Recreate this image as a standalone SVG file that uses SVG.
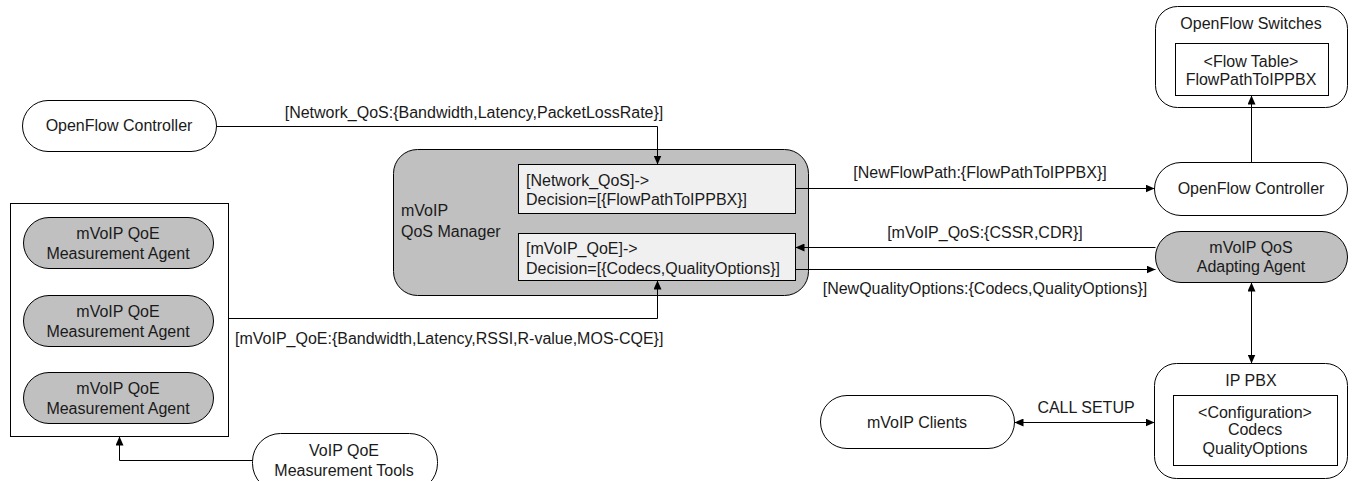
<svg xmlns="http://www.w3.org/2000/svg" width="1353" height="481" viewBox="0 0 1353 481">
<defs>
<style>
text{font-family:"Liberation Sans",Arial,sans-serif;font-size:16px;fill:#1a1a1a}
.c{text-anchor:middle}
.w{fill:#ffffff;stroke:#000;stroke-width:1}
.g{fill:#c0c0c0;stroke:#000;stroke-width:1}
.l{fill:#f0f0f0;stroke:#000;stroke-width:1}
.e{fill:none;stroke:#000;stroke-width:1}
</style>
<marker id="ah" viewBox="0 0 9 8" refX="9" refY="4" markerWidth="9" markerHeight="8" markerUnits="userSpaceOnUse" orient="auto-start-reverse">
<path d="M0,0 L9,4 L0,8 Z" fill="#000"/>
</marker>
</defs>
<rect width="1353" height="481" fill="#fff"/>

<g id="of-controller-left">
<rect class="w" x="22.5" y="100.5" width="194" height="51" rx="25.5"/>
<text class="c" x="119" y="131">OpenFlow Controller</text>
</g>

<g id="qos-manager">
<rect class="g" x="393.5" y="149.5" width="415" height="146" rx="24"/>
<text x="401" y="216">mVoIP</text>
<text x="401" y="237">QoS Manager</text>
<rect class="l" x="518.5" y="164.5" width="277" height="49"/>
<text x="526" y="186">[Network_QoS]-&gt;</text>
<text x="526" y="205">Decision=[{FlowPathToIPPBX}]</text>
<rect class="l" x="518.5" y="233.5" width="277" height="47"/>
<text x="526" y="254">[mVoIP_QoE]-&gt;</text>
<text x="526" y="274">Decision=[{Codecs,QualityOptions}]</text>
</g>

<g id="agents-container">
<rect class="w" x="10.5" y="203.5" width="218" height="233"/>
</g>
<g id="agent-1">
<rect class="g" x="23.5" y="217.5" width="190" height="51" rx="25.5"/>
<text class="c" x="118" y="239">mVoIP QoE</text>
<text class="c" x="118" y="259">Measurement Agent</text>
</g>
<g id="agent-2">
<rect class="g" x="23.5" y="295.5" width="190" height="51" rx="25.5"/>
<text class="c" x="118" y="317">mVoIP QoE</text>
<text class="c" x="118" y="337">Measurement Agent</text>
</g>
<g id="agent-3">
<rect class="g" x="23.5" y="372.5" width="190" height="51" rx="25.5"/>
<text class="c" x="118" y="394">mVoIP QoE</text>
<text class="c" x="118" y="414">Measurement Agent</text>
</g>

<g id="measurement-tools">
<rect class="w" x="252.5" y="433.5" width="185" height="58" rx="28"/>
<text class="c" x="344" y="456">VoIP QoE</text>
<text class="c" x="344" y="476">Measurement Tools</text>
</g>

<g id="openflow-switches">
<rect class="w" x="1155.5" y="6.5" width="192" height="101" rx="22"/>
<text class="c" x="1251" y="29">OpenFlow Switches</text>
<rect class="w" x="1175.5" y="43.5" width="153" height="52"/>
<text class="c" x="1251" y="67">&lt;Flow Table&gt;</text>
<text class="c" x="1251" y="85">FlowPathToIPPBX</text>
</g>

<g id="of-controller-right">
<rect class="w" x="1154.5" y="162.5" width="193" height="53" rx="26.5"/>
<text class="c" x="1251" y="194">OpenFlow Controller</text>
</g>

<g id="adapting-agent">
<rect class="g" x="1155.5" y="231.5" width="192" height="51" rx="25.5"/>
<text class="c" x="1251" y="253">mVoIP QoS</text>
<text class="c" x="1251" y="272">Adapting Agent</text>
</g>

<g id="ip-pbx">
<rect class="w" x="1154.5" y="363.5" width="193" height="115" rx="22"/>
<text class="c" x="1251" y="386">IP PBX</text>
<rect class="w" x="1173.5" y="395.5" width="164" height="70"/>
<text class="c" x="1255" y="418">&lt;Configuration&gt;</text>
<text class="c" x="1255" y="435">Codecs</text>
<text class="c" x="1255" y="454">QualityOptions</text>
</g>

<g id="mvoip-clients">
<rect class="w" x="820.5" y="395.5" width="194" height="53" rx="26.5"/>
<text class="c" x="917" y="428">mVoIP Clients</text>
</g>

<g id="connectors">
<path class="e" d="M216.5,126.5 H657.5 V164.5" marker-end="url(#ah)"/>
<path class="e" d="M228.5,318.5 H657.5 V280.5" marker-end="url(#ah)"/>
<path class="e" d="M252.5,460.5 H119.5 V436.5" marker-end="url(#ah)"/>
<path class="e" d="M795.5,188.5 H1154.5" marker-end="url(#ah)"/>
<path class="e" d="M1155.5,247.5 H795.5" marker-end="url(#ah)"/>
<path class="e" d="M795.5,269.5 H1155.5" marker-end="url(#ah)"/>
<path class="e" d="M1251.5,162.5 V95.5" marker-end="url(#ah)"/>
<path class="e" d="M1251.5,282.5 V363.5" marker-start="url(#ah)" marker-end="url(#ah)"/>
<path class="e" d="M1014.5,422.5 H1154.5" marker-start="url(#ah)" marker-end="url(#ah)"/>
<text class="c" x="474" y="118">[Network_QoS:{Bandwidth,Latency,PacketLossRate}]</text>
<text x="235" y="344">[mVoIP_QoE:{Bandwidth,Latency,RSSI,R-value,MOS-CQE}]</text>
<text class="c" x="980" y="178">[NewFlowPath:{FlowPathToIPPBX}]</text>
<text class="c" x="985" y="238">[mVoIP_QoS:{CSSR,CDR}]</text>
<text class="c" x="985" y="294">[NewQualityOptions:{Codecs,QualityOptions}]</text>
<text class="c" x="1086" y="413">CALL SETUP</text>
</g>
</svg>
